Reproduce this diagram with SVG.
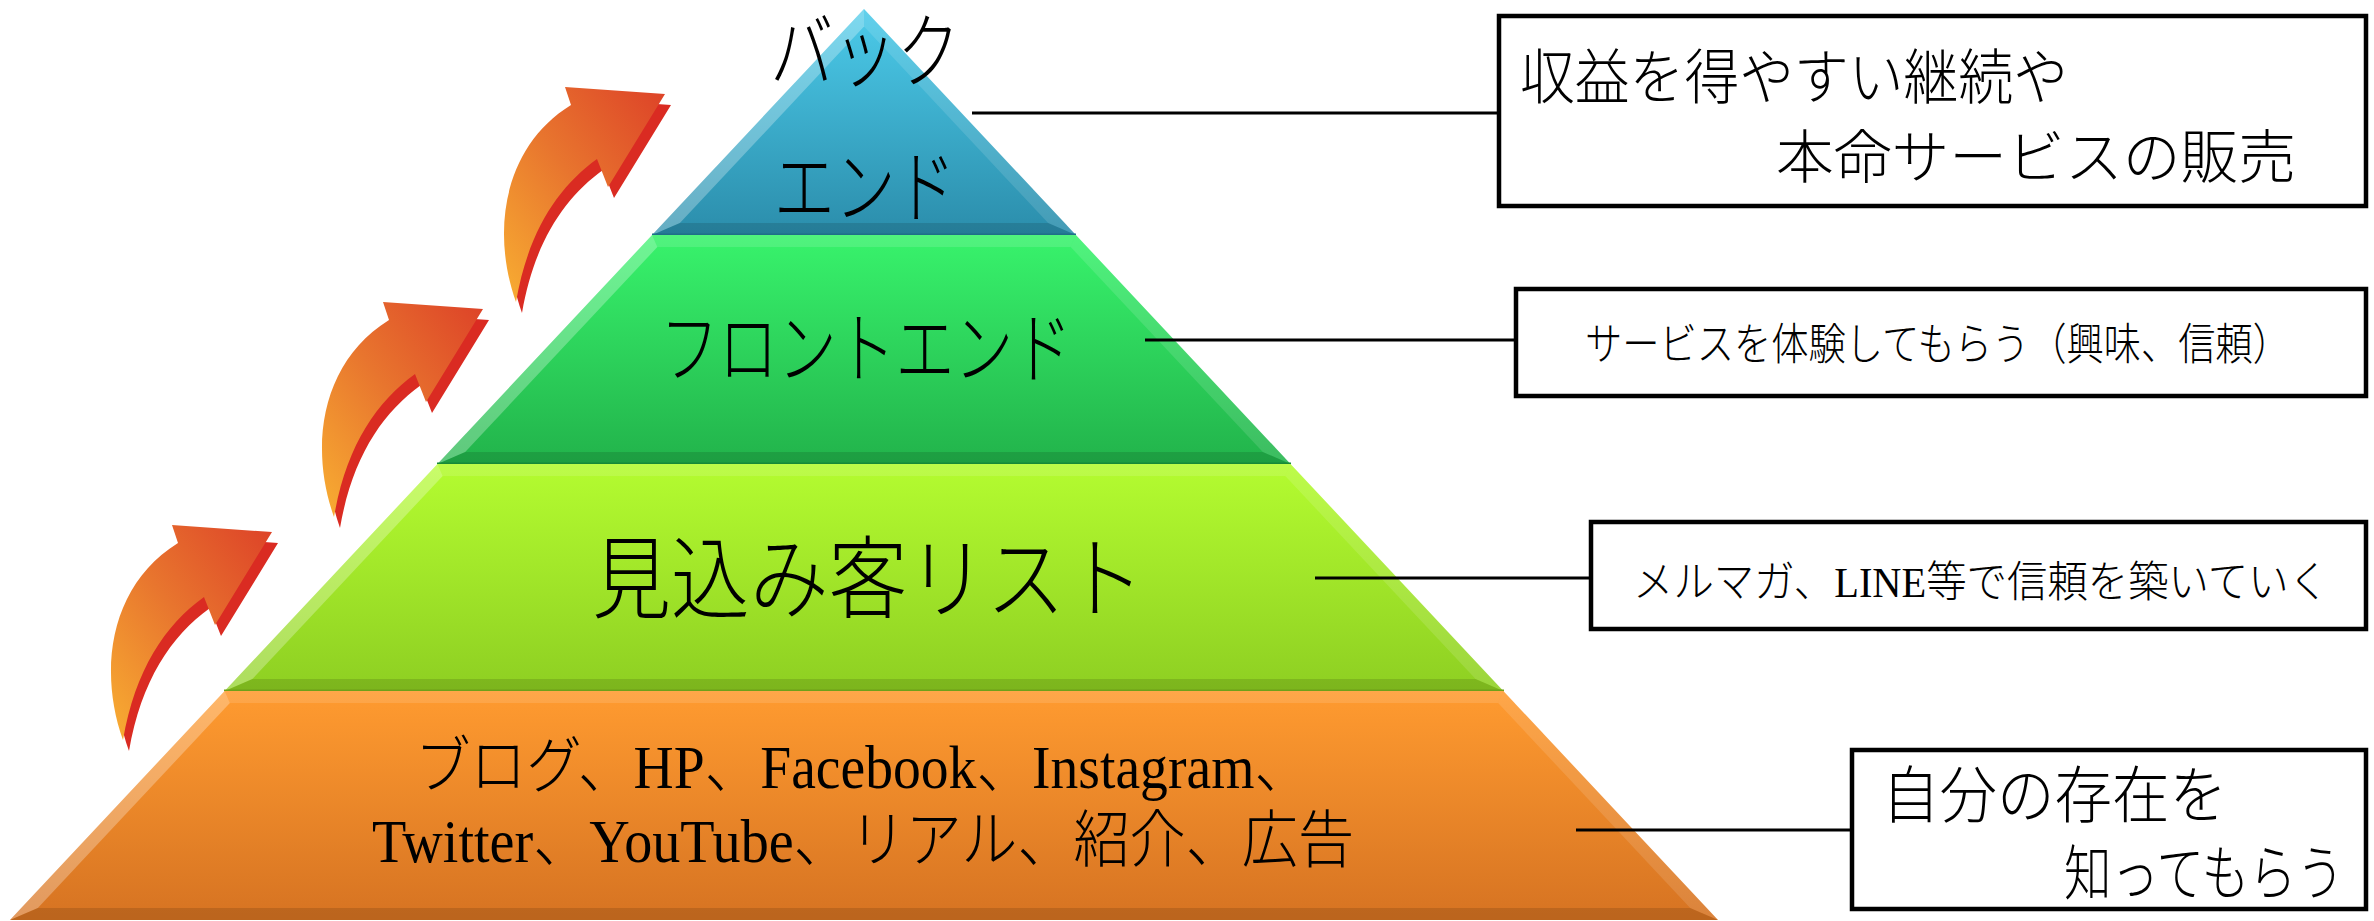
<svg xmlns="http://www.w3.org/2000/svg" xmlns:xlink="http://www.w3.org/1999/xlink" width="2374" height="921" viewBox="0 0 2374 921">
<style>
.jp{font-family:"Noto Sans CJK JP","Liberation Sans",sans-serif;font-weight:300;fill:#000;}
.mix{font-family:"Liberation Serif","Noto Sans CJK JP",serif;font-weight:300;fill:#000;}
.box{fill:#fff;stroke:#000;stroke-width:4.5;}
.conn{stroke:#000;stroke-width:3;fill:none;}
.bl{fill:#fff;fill-opacity:0.28;}
.br{fill:#fff;fill-opacity:0.12;}
.bt{fill:#fff;fill-opacity:0.12;}
.bb{fill:#000;fill-opacity:0.12;}
</style>
<defs>
<linearGradient id="gBlue" x1="0" y1="0" x2="0" y2="1"><stop offset="0" stop-color="#4ccbea"/><stop offset="1" stop-color="#2b8dab"/></linearGradient>
<linearGradient id="gGreen" x1="0" y1="0" x2="0" y2="1"><stop offset="0" stop-color="#38f36c"/><stop offset="1" stop-color="#22b34b"/></linearGradient>
<linearGradient id="gLime" x1="0" y1="0" x2="0" y2="1"><stop offset="0" stop-color="#b4fc30"/><stop offset="1" stop-color="#8ecf22"/></linearGradient>
<linearGradient id="gOrange" x1="0" y1="0" x2="0" y2="1"><stop offset="0" stop-color="#ff9b30"/><stop offset="1" stop-color="#d67322"/></linearGradient>
<linearGradient id="gArrow" x1="0" y1="1" x2="1" y2="0"><stop offset="0" stop-color="#f8ae32"/><stop offset="0.5" stop-color="#e8752e"/><stop offset="1" stop-color="#dd4228"/></linearGradient>
<g id="arrow">
<path transform="translate(6,11)" fill="#da2b22" d="M123,740 C98,670 110,585 178,543 L172,525 L272,532 L215,625 L204,597 C165,625 135,670 123,740 Z"/>
<path fill="url(#gArrow)" d="M123,740 C98,670 110,585 178,543 L172,525 L272,532 L215,625 L204,597 C165,625 135,670 123,740 Z"/>
</g>
</defs>
<rect width="2374" height="921" fill="#fff"/>

<g id="arrows">
<use xlink:href="#arrow"/>
<use xlink:href="#arrow" transform="translate(211,-223)"/>
<use xlink:href="#arrow" transform="translate(393,-438)"/>
</g>

<g id="band-back">
<polygon fill="url(#gBlue)" points="864,9 1075.9,235 652.1,235"/>
<polygon class="bl" points="864,9 864,26.6 679.9,223 652.1,235"/>
<polygon class="br" points="864,9 1075.9,235 1048.1,223 864,26.6"/>
<polygon class="bb" points="652.1,235 679.9,223 1048.1,223 1075.9,235"/>
<line x1="652" y1="234.5" x2="1076" y2="234.5" stroke="#1f6f88" stroke-width="2"/>
<text class="jp" x="770" y="81" font-size="82" textLength="190" lengthAdjust="spacingAndGlyphs">バック</text>
<text class="jp" x="774" y="216" font-size="80" textLength="182" lengthAdjust="spacingAndGlyphs">エンド</text>
</g>

<g id="band-front">
<polygon fill="url(#gGreen)" points="652.1,235 1075.9,235 1290.5,464 437.5,464"/>
<polygon class="bl" points="652.1,235 657.4,247 465.2,452 437.5,464"/>
<polygon class="br" points="1075.9,235 1290.5,464 1262.8,452 1070.6,247"/>
<polygon class="bt" points="652.1,235 1075.9,235 1070.6,247 657.4,247"/>
<polygon class="bb" points="437.5,464 465.2,452 1262.8,452 1290.5,464"/>
<line x1="437" y1="463.5" x2="1291" y2="463.5" stroke="#178a38" stroke-width="2"/>
<text class="jp" x="660" y="377" font-size="78" textLength="412" lengthAdjust="spacingAndGlyphs">フロントエンド</text>
</g>

<g id="band-list">
<polygon fill="url(#gLime)" points="437.5,464 1290.5,464 1503.3,691 224.7,691"/>
<polygon class="bl" points="437.5,464 442.7,476 252.4,679 224.7,691"/>
<polygon class="br" points="1290.5,464 1503.3,691 1475.6,679 1285.3,476"/>
<polygon class="bt" points="437.5,464 1290.5,464 1285.3,476 442.7,476"/>
<polygon class="bb" points="224.7,691 252.4,679 1475.6,679 1503.3,691"/>
<line x1="224" y1="690.5" x2="1504" y2="690.5" stroke="#6fa01a" stroke-width="2"/>
<text class="jp" x="592" y="611" font-size="90" textLength="552" lengthAdjust="spacingAndGlyphs">見込み客リスト</text>
</g>

<g id="band-awareness">
<polygon fill="url(#gOrange)" points="224.7,691 1503.3,691 1718,920 10,920"/>
<polygon class="bl" points="224.7,691 229.9,703 37.8,908 10,920"/>
<polygon class="br" points="1503.3,691 1718,920 1690.2,908 1498.1,703"/>
<polygon class="bt" points="224.7,691 1503.3,691 1498.1,703 229.9,703"/>
<polygon class="bb" points="10,920 37.8,908 1690.2,908 1718,920"/>
<text class="mix" x="415" y="788" font-size="62" textLength="895" lengthAdjust="spacingAndGlyphs">ブログ、HP、Facebook、Instagram、</text>
<text class="mix" x="372" y="862" font-size="62" textLength="982" lengthAdjust="spacingAndGlyphs">Twitter、YouTube、リアル、紹介、広告</text>
</g>

<g id="connectors">
<line class="conn" x1="972" y1="113" x2="1499" y2="113"/>
<line class="conn" x1="1145" y1="340" x2="1516" y2="340"/>
<line class="conn" x1="1315" y1="578" x2="1591" y2="578"/>
<line class="conn" x1="1576" y1="830" x2="1852" y2="830"/>
</g>

<g id="note-back">
<rect class="box" x="1499" y="16" width="867" height="190"/>
<text class="jp" x="1520" y="99" font-size="60" textLength="548" lengthAdjust="spacingAndGlyphs">収益を得やすい継続や</text>
<text class="jp" x="1776" y="178" font-size="58" textLength="520" lengthAdjust="spacingAndGlyphs">本命サービスの販売</text>
</g>

<g id="note-front">
<rect class="box" x="1516" y="289" width="850" height="107"/>
<text class="jp" x="1585" y="360" font-size="44" textLength="705" lengthAdjust="spacingAndGlyphs">サービスを体験してもらう（興味、信頼）</text>
</g>

<g id="note-list">
<rect class="box" x="1591" y="522" width="775" height="107"/>
<text class="mix" x="1633" y="597" font-size="43" textLength="696" lengthAdjust="spacingAndGlyphs">メルマガ、LINE等で信頼を築いていく</text>
</g>

<g id="note-awareness">
<rect class="box" x="1852" y="750" width="514" height="159"/>
<text class="jp" x="1882" y="818" font-size="62" textLength="345" lengthAdjust="spacingAndGlyphs">自分の存在を</text>
<text class="jp" x="2064" y="895" font-size="60" textLength="280" lengthAdjust="spacingAndGlyphs">知ってもらう</text>
</g>
</svg>
